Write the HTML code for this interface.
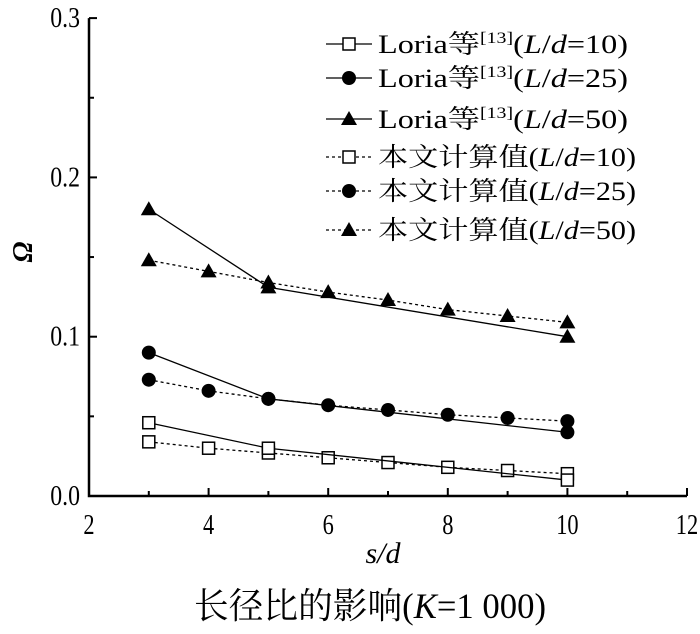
<!DOCTYPE html>
<html><head><meta charset="utf-8"><style>
body{margin:0;background:#fff}
svg{display:block;font-family:"Liberation Serif","Noto Serif CJK SC",serif}
</style></head><body>
<svg id="c" width="700" height="634"></svg>
<script>
const xs10=[3,5,10], loria10=[0.046,0.030,0.010];
const xs25=[3,5,10], loria25=[0.090,0.061,0.040];
const xs50=[3,5,10], loria50=[0.180,0.131,0.100];
const xsCalc=[3,4,5,6,7,8,9,10];
const calc10=[0.034,0.030,0.027,0.024,0.021,0.018,0.016,0.014];
const calc25=[0.073,0.066,0.061,0.057,0.054,0.051,0.049,0.047];
const calc50=[0.148,0.141,0.134,0.128,0.123,0.117,0.113,0.109];
const xTicks=[2,4,6,8,10,12];
const yTicks=[0.0,0.1,0.2,0.3];
const NS="http://www.w3.org/2000/svg";
const svg=document.getElementById('c');
const X=v=>89+(v-2)*59.8, Y=v=>496-v*1593;
function el(t,a,p){const e=document.createElementNS(NS,t);for(const k in a)e.setAttribute(k,a[k]);(p||svg).appendChild(e);return e;}
let ax=el('path',{d:`M89 ${Y(0.3)}V496H${X(12)}`,fill:'none',stroke:'#000','stroke-width':2.5});


xTicks.forEach(t=>{el('line',{x1:X(t),x2:X(t),y1:496,y2:488,stroke:'#000','stroke-width':2});
 let tx=el('text',{x:X(t),y:534,'text-anchor':'middle','font-size':28,transform:`translate(${X(t)},534) scale(0.8,1) translate(${-X(t)},-534)`});tx.textContent=t;
 
 
 if(t<12)el('line',{x1:X(t+1),x2:X(t+1),y1:496,y2:491,stroke:'#000','stroke-width':2});});
yTicks.forEach(t=>{el('line',{x1:89,x2:97,y1:Y(t),y2:Y(t),stroke:'#000','stroke-width':2});
 let tx=el('text',{x:80,y:Y(t)+9,'text-anchor':'end','font-size':28,transform:`translate(80,0) scale(0.85,1) translate(-80,0)`});tx.textContent=t.toFixed(1);
 
 
 if(t<0.3)el('line',{x1:89,x2:94,y1:Y(t+0.05),y2:Y(t+0.05),stroke:'#000','stroke-width':2});});
function marker(type,x,y,g){
 if(type==='sq')el('rect',{x:x-6,y:y-6,width:12,height:12,fill:'#fff',stroke:'#000','stroke-width':1.5},g);
 else if(type==='ci')el('circle',{cx:x,cy:y,r:7,fill:'#000'},g);
 else el('path',{d:`M${x} ${y-8}L${x+8} ${y+6}H${x-8}Z`,fill:'#000'},g);}
function series(name,xsA,ys,type,dash){
 const g=el('g',{});
 
 
 el('polyline',{points:xsA.map((x,i)=>X(x)+','+Y(ys[i])).join(' '),fill:'none',stroke:'#000','stroke-width':1.3,'stroke-dasharray':dash?'3,3':'none'},g);
 xsA.forEach((x,i)=>marker(type,X(x),Y(ys[i]),g));}
series('series-calc-10',xsCalc,calc10,'sq',true);
series('series-loria-10',xs10,loria10,'sq',false);
series('series-calc-25',xsCalc,calc25,'ci',true);
series('series-loria-25',xs25,loria25,'ci',false);
series('series-calc-50',xsCalc,calc50,'tr',true);
series('series-loria-50',xs50,loria50,'tr',false);
const leg=[['sq',0,'Loria等','[13]','10'],['ci',0,'Loria等','[13]','25'],['tr',0,'Loria等','[13]','50'],['sq',1,'本文计算值','','10'],['ci',1,'本文计算值','','25'],['tr',1,'本文计算值','','50']];
const ly=[44,78,119,157,191,230];
leg.forEach((l,i)=>{const g=el('g',{});
 
 
 el('line',{x1:326,x2:372,y1:ly[i],y2:ly[i],stroke:'#000','stroke-width':1.3,'stroke-dasharray':l[1]?'3,3':'none'},g);
 marker(l[0],349,ly[i],g);
 const t=el('text',{x:378,y:ly[i]+9,'font-size':26,textLength:l[3]?250:258,lengthAdjust:'spacingAndGlyphs'},g);
 t.innerHTML=l[2]+(l[3]?'<tspan font-size="16" dy="-10">'+l[3]+'</tspan><tspan dy="10">(</tspan>':'(')+'<tspan font-style="italic">L</tspan>/<tspan font-style="italic">d</tspan>='+l[4]+')';});
let yl=el('text',{x:0,y:0,transform:'translate(32,252) rotate(-90)','text-anchor':'middle','font-size':28,'font-weight':'bold','font-style':'italic'});yl.textContent='Ω';


let xl=el('text',{x:383,y:563,'text-anchor':'middle','font-size':30,'font-style':'italic'});xl.textContent='s/d';


let ti=el('text',{x:370,y:618,'text-anchor':'middle','font-size':36,textLength:352,lengthAdjust:'spacingAndGlyphs'});
ti.innerHTML='长径比的影响(<tspan font-style="italic">K</tspan>=1 000)';


</script>
</body></html>
